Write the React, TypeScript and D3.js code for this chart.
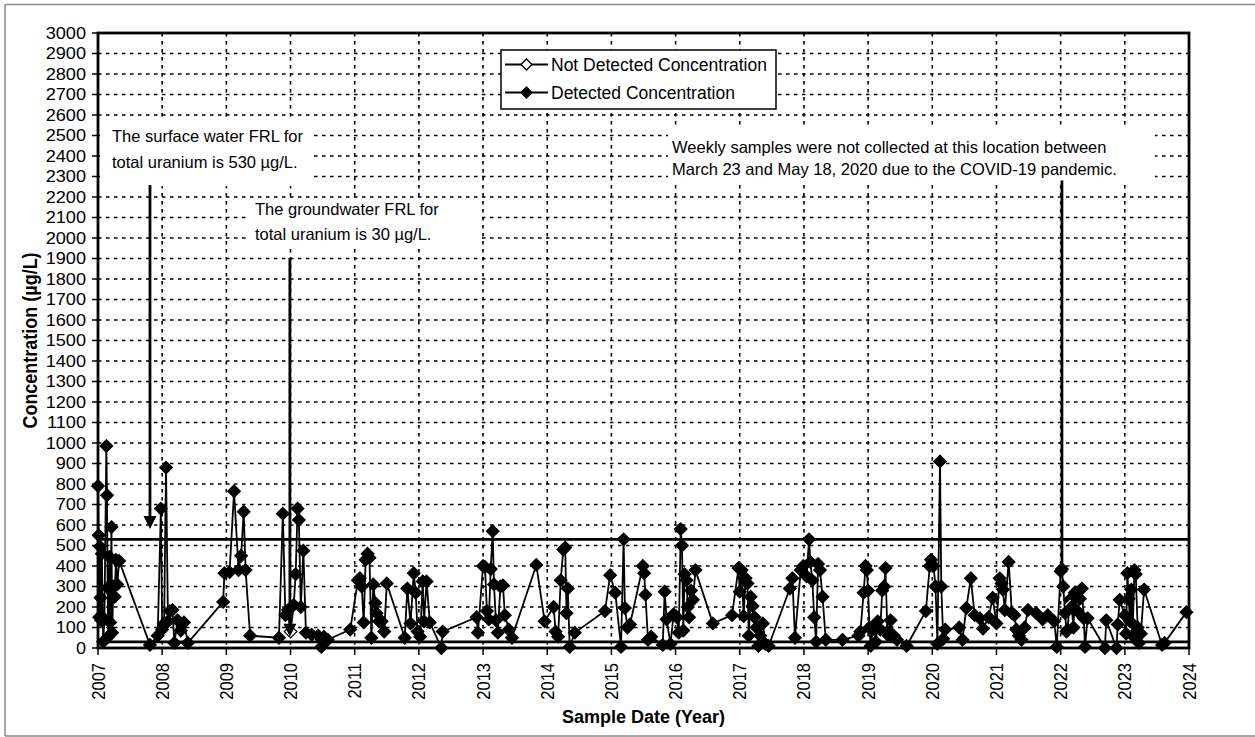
import React, { useEffect, useRef } from 'react';
import * as d3 from 'd3';

const WIDTH = 1255;
const HEIGHT = 737;
const FONT = '"Liberation Sans", Arial, sans-serif';

// [decimal year, concentration µg/L]
const detected2007 = [
  [2007.0, 790], [2007.01, 550], [2007.02, 150], [2007.03, 495], [2007.04, 245], [2007.05, 135],
  [2007.06, 460], [2007.08, 30], [2007.1, 140], [2007.13, 985], [2007.14, 745], [2007.15, 295],
  [2007.16, 55], [2007.18, 445], [2007.19, 125], [2007.21, 590], [2007.22, 75], [2007.24, 300],
  [2007.26, 250], [2007.28, 430], [2007.3, 310], [2007.33, 425], [2007.81, 15],
];
const detected2008 = [
  [2007.93, 60], [2007.98, 680], [2008.0, 90], [2008.03, 120], [2008.06, 880], [2008.09, 130],
  [2008.12, 180], [2008.16, 185], [2008.19, 25], [2008.24, 135], [2008.29, 85], [2008.34, 125],
  [2008.4, 25],
];
const detected2009 = [
  [2008.95, 225], [2008.97, 365], [2009.05, 370], [2009.12, 765], [2009.19, 380], [2009.23, 450],
  [2009.27, 665], [2009.3, 380], [2009.37, 60], [2009.82, 50],
];
const detected2010 = [
  [2009.88, 655], [2009.92, 160], [2009.96, 185], [2010.05, 210], [2010.08, 360], [2010.11, 680],
  [2010.13, 625], [2010.16, 200], [2010.2, 475], [2010.24, 75], [2010.33, 65], [2010.43, 60],
  [2010.48, 5], [2010.52, 55], [2010.58, 40], [2010.93, 90],
];
const detected2011 = [
  [2011.05, 330], [2011.08, 340], [2011.11, 300], [2011.14, 125], [2011.17, 430], [2011.2, 460],
  [2011.23, 440], [2011.26, 50], [2011.29, 310], [2011.32, 220], [2011.34, 170], [2011.38, 130],
  [2011.42, 130], [2011.46, 80], [2011.5, 315], [2011.78, 50], [2011.82, 290], [2011.87, 120],
  [2011.92, 365], [2011.95, 270], [2011.98, 80],
];
const detected2012 = [
  [2012.02, 55], [2012.06, 325], [2012.08, 130], [2012.12, 325], [2012.17, 125], [2012.35, 0],
  [2012.37, 80], [2012.9, 150], [2012.92, 75],
];
const detected2013 = [
  [2013.0, 400], [2013.03, 395], [2013.06, 180], [2013.09, 140], [2013.12, 385], [2013.15, 570],
  [2013.17, 310], [2013.2, 135], [2013.23, 75], [2013.27, 300], [2013.31, 305], [2013.34, 160],
  [2013.4, 90], [2013.45, 50], [2013.83, 405], [2013.96, 130],
];
const detected2014 = [
  [2014.1, 200], [2014.13, 80], [2014.17, 55], [2014.21, 330], [2014.25, 480], [2014.28, 490],
  [2014.3, 170], [2014.32, 290], [2014.35, 5], [2014.43, 75], [2014.9, 180], [2014.98, 355],
];
const detected2015 = [
  [2015.06, 270], [2015.15, 5], [2015.19, 530], [2015.21, 195], [2015.25, 100], [2015.29, 115],
  [2015.49, 400], [2015.51, 365], [2015.53, 260], [2015.57, 40], [2015.62, 55], [2015.8, 15],
  [2015.83, 275], [2015.86, 140], [2015.92, 20], [2015.97, 165],
];
const detected2016 = [
  [2016.02, 150], [2016.05, 75], [2016.08, 580], [2016.1, 500], [2016.12, 85], [2016.14, 360],
  [2016.17, 330], [2016.19, 200], [2016.21, 150], [2016.24, 280], [2016.27, 235], [2016.31, 380],
  [2016.58, 120], [2016.88, 160], [2016.98, 390],
];
const detected2017 = [
  [2017.0, 275], [2017.03, 380], [2017.06, 155], [2017.09, 340], [2017.12, 315], [2017.14, 60],
  [2017.17, 250], [2017.2, 205], [2017.23, 150], [2017.26, 100], [2017.29, 10], [2017.32, 60],
  [2017.36, 120], [2017.4, 20], [2017.45, 10], [2017.78, 290], [2017.82, 340], [2017.86, 50],
  [2017.95, 380], [2017.99, 400],
];
const detected2018 = [
  [2018.04, 350], [2018.08, 530], [2018.1, 420], [2018.13, 330], [2018.16, 150], [2018.19, 30],
  [2018.22, 410], [2018.25, 380], [2018.29, 250], [2018.34, 40], [2018.6, 40], [2018.85, 60],
  [2018.88, 80], [2018.93, 270], [2018.96, 400], [2018.98, 380],
];
const detected2019 = [
  [2019.0, 280], [2019.02, 100], [2019.04, 10], [2019.07, 90], [2019.1, 110], [2019.12, 30],
  [2019.15, 130], [2019.19, 90], [2019.22, 280], [2019.25, 300], [2019.27, 390], [2019.3, 80],
  [2019.32, 60], [2019.35, 135], [2019.4, 60], [2019.45, 40], [2019.6, 10], [2019.9, 180],
  [2019.96, 400], [2019.98, 430],
];
const detected2020 = [
  [2020.02, 400], [2020.05, 300], [2020.08, 20], [2020.12, 910], [2020.14, 300], [2020.17, 45],
  [2020.2, 90], [2020.42, 100], [2020.47, 40], [2020.53, 195], [2020.6, 340], [2020.66, 160],
  [2020.74, 145], [2020.79, 95], [2020.88, 150], [2020.94, 245],
];
const detected2021 = [
  [2021.0, 120], [2021.05, 340], [2021.08, 315], [2021.1, 285], [2021.13, 185], [2021.19, 420],
  [2021.24, 170], [2021.28, 160], [2021.31, 90], [2021.35, 60], [2021.39, 40], [2021.44, 100],
  [2021.49, 185], [2021.62, 170], [2021.72, 140], [2021.8, 160], [2021.9, 130], [2021.94, 5],
];
const detected2022 = [
  [2022.0, 375], [2022.02, 385], [2022.04, 300], [2022.07, 170], [2022.09, 80], [2022.11, 90],
  [2022.14, 235], [2022.17, 200], [2022.2, 100], [2022.22, 270], [2022.26, 180], [2022.3, 240],
  [2022.33, 290], [2022.36, 145], [2022.38, 5], [2022.42, 145], [2022.69, 0], [2022.71, 135],
  [2022.87, 0], [2022.89, 115], [2022.92, 235],
];
const detected2023 = [
  [2023.0, 160], [2023.02, 70], [2023.04, 365], [2023.06, 240], [2023.08, 130], [2023.1, 285],
  [2023.12, 60], [2023.15, 380], [2023.17, 360], [2023.2, 100], [2023.22, 25], [2023.25, 70],
  [2023.3, 285], [2023.58, 15], [2023.62, 25], [2023.96, 175],
];
const notDetected = [[2010.0, 80], [2022.15, 210]];

const yearTicks = [2007, 2008, 2009, 2010, 2011, 2012, 2013, 2014, 2015, 2016, 2017, 2018, 2019, 2020, 2021, 2022, 2023, 2024];
const concTicks = [0, 100, 200, 300, 400, 500, 600, 700, 800, 900, 1000, 1100, 1200, 1300, 1400, 1500,
  1600, 1700, 1800, 1900, 2000, 2100, 2200, 2300, 2400, 2500, 2600, 2700, 2800, 2900, 3000];

const surfaceFRL = 530;
const groundFRL = 30;

const diamond = (r) => `M0,${-r}L${r},0L0,${r}L${-r},0Z`;

const Chart = () => {
  const chartRef = useRef<SVGSVGElement>(null);

  useEffect(() => {
    const svg = d3.select(chartRef.current);
    svg.selectAll('*').remove();

    const x = d3.scaleLinear().domain([2007, 2024]).range([98, 1189]);
    const y = d3.scaleLinear().domain([0, 3000]).range([648, 33]);
    const [x0, x1] = x.range();
    const [yb, yt] = y.range();

    // outer border of the figure
    const border = svg.append('g').attr('stroke', '#8a8a8a').attr('stroke-width', 1.5);
    border.append('line').attr('x1', 5).attr('x2', WIDTH).attr('y1', 4.5).attr('y2', 4.5);
    border.append('line').attr('x1', 5).attr('x2', 5).attr('y1', 4.5).attr('y2', 736);
    border.append('line').attr('x1', 5).attr('x2', WIDTH).attr('y1', 736).attr('y2', 736);

    // dotted gridlines
    const grid = svg.append('g').attr('stroke', '#000').attr('stroke-width', 1.6)
      .attr('stroke-dasharray', '3.5,4.5');
    grid.selectAll('.h').data(concTicks.slice(1, -1)).join('line')
      .attr('x1', x0).attr('x2', x1).attr('y1', d => y(d)).attr('y2', d => y(d));
    grid.selectAll('.v').data(yearTicks.slice(1, -1)).join('line')
      .attr('y1', yt).attr('y2', yb).attr('x1', d => x(d)).attr('x2', d => x(d));

    // white boxes behind annotations
    const boxes = [[100, 120, 214, 66], [248, 198, 230, 50], [668, 128, 487, 56]];
    svg.append('g').selectAll('rect').data(boxes).join('rect')
      .attr('x', d => d[0]).attr('y', d => d[1]).attr('width', d => d[2]).attr('height', d => d[3])
      .attr('fill', '#fff');

    // FRL lines
    svg.append('g').attr('stroke', '#000').attr('stroke-width', 2.6)
      .selectAll('line').data([surfaceFRL, groundFRL]).join('line')
      .attr('x1', x0).attr('x2', x1).attr('y1', d => y(d)).attr('y2', d => y(d));

    // data series
    const detected = [
      ...detected2007, ...detected2008, ...detected2009, ...detected2010, ...detected2011,
      ...detected2012, ...detected2013, ...detected2014, ...detected2015, ...detected2016,
      ...detected2017, ...detected2018, ...detected2019, ...detected2020, ...detected2021,
      ...detected2022, ...detected2023,
    ].map(d => ({ t: d[0], v: d[1], nd: false }));
    const nd = notDetected.map(d => ({ t: d[0], v: d[1], nd: true }));
    const all = [...detected, ...nd].sort((a, b) => a.t - b.t);

    const line = d3.line<any>().x(d => x(d.t)).y(d => y(d.v));
    svg.append('path').datum(all).attr('d', line)
      .attr('fill', 'none').attr('stroke', '#000').attr('stroke-width', 1.8)
      .attr('stroke-linejoin', 'round');

    svg.append('g').selectAll('path').data(all).join('path')
      .attr('d', diamond(6.3))
      .attr('transform', d => `translate(${x(d.t)},${y(d.v)})`)
      .attr('fill', d => (d.nd ? '#fff' : '#000'))
      .attr('stroke', '#000').attr('stroke-width', 1.2);

    // annotations with arrows
    const arrows = [
      { t: 2007.81, from: 2258, to: 580, head: true },
      { t: 2009.99, from: 1902, to: 55, head: true },
      { t: 2022.02, from: 2280, to: 380, head: false },
    ];
    const ag = svg.append('g');
    arrows.forEach(a => {
      const ax = x(a.t);
      const tip = y(a.to);
      ag.append('line').attr('x1', ax).attr('x2', ax).attr('y1', y(a.from))
        .attr('y2', a.head ? tip - 10 : tip)
        .attr('stroke', '#000').attr('stroke-width', 2.8);
      if (a.head) {
        ag.append('path').attr('d', `M${ax - 6.5},${tip - 13}L${ax + 6.5},${tip - 13}L${ax},${tip}Z`)
          .attr('fill', '#000');
      }
    });

    const notes = [
      { x: 112, y: 142, lines: ['The surface water FRL for', 'total uranium is 530 µg/L.'], gap: 26 },
      { x: 255, y: 215, lines: ['The groundwater FRL for', 'total uranium is 30 µg/L.'], gap: 25 },
      {
        x: 672, y: 153,
        lines: ['Weekly samples were not collected at this location between',
          'March 23 and May 18, 2020 due to the COVID-19 pandemic.'],
        gap: 22,
      },
    ];
    notes.forEach(n => {
      n.lines.forEach((l, i) => {
        svg.append('text').attr('x', n.x).attr('y', n.y + i * n.gap)
          .attr('font-family', FONT).attr('font-size', 16.5).attr('fill', '#000').text(l);
      });
    });

    // legend
    const lg = svg.append('g');
    lg.append('rect').attr('x', 501).attr('y', 50).attr('width', 275).attr('height', 59)
      .attr('fill', '#fff').attr('stroke', '#000').attr('stroke-width', 1.5);
    const items = [
      { label: 'Not Detected Concentration', fill: '#fff', cy: 64.5 },
      { label: 'Detected Concentration', fill: '#000', cy: 92.5 },
    ];
    items.forEach(it => {
      lg.append('line').attr('x1', 505).attr('x2', 548).attr('y1', it.cy).attr('y2', it.cy)
        .attr('stroke', '#000').attr('stroke-width', 1.8);
      lg.append('path').attr('d', diamond(5.5)).attr('transform', `translate(526.5,${it.cy})`)
        .attr('fill', it.fill).attr('stroke', '#000').attr('stroke-width', 1.3);
      lg.append('text').attr('x', 551).attr('y', it.cy + 6.2).attr('font-family', FONT)
        .attr('font-size', 17.5).attr('fill', '#000').text(it.label);
    });

    // plot frame
    svg.append('rect').attr('x', x0).attr('y', yt).attr('width', x1 - x0).attr('height', yb - yt)
      .attr('fill', 'none').attr('stroke', '#000').attr('stroke-width', 2.8);

    // y axis ticks and labels
    const yAxis = svg.append('g');
    yAxis.selectAll('line').data(concTicks).join('line')
      .attr('x1', x0 - 6).attr('x2', x0).attr('y1', d => y(d)).attr('y2', d => y(d))
      .attr('stroke', '#000').attr('stroke-width', 1.5);
    yAxis.selectAll('text').data(concTicks).join('text')
      .attr('transform', d => `translate(86,${y(d)}) scale(1.1,1)`).attr('dy', '0.36em')
      .attr('text-anchor', 'end').attr('font-family', FONT).attr('font-size', 16.5)
      .text(d => d);

    // x axis ticks and labels
    const xAxis = svg.append('g');
    xAxis.selectAll('line').data(yearTicks).join('line')
      .attr('x1', d => x(d)).attr('x2', d => x(d)).attr('y1', yb).attr('y2', yb + 7)
      .attr('stroke', '#000').attr('stroke-width', 1.5);
    xAxis.selectAll('text').data(yearTicks).join('text')
      .attr('transform', d => `translate(${x(d)},663) rotate(-90) scale(1,1.1)`)
      .attr('dy', '0.36em').attr('text-anchor', 'end')
      .attr('font-family', FONT).attr('font-size', 16.5).text(d => d);

    // axis titles
    svg.append('text').attr('x', (x0 + x1) / 2).attr('y', 723).attr('text-anchor', 'middle')
      .attr('font-family', FONT).attr('font-size', 18).attr('font-weight', 'bold')
      .text('Sample Date (Year)');
    svg.append('text').attr('transform', `translate(37,${(yt + yb) / 2}) rotate(-90) scale(1,1.1)`)
      .attr('text-anchor', 'middle').attr('font-family', FONT).attr('font-size', 18)
      .attr('font-weight', 'bold').text('Concentration (µg/L)');
  }, []);

  return (
    <svg ref={chartRef} width={WIDTH} height={HEIGHT}
      style={{ position: 'absolute', left: 0, top: 0, background: '#fff' }}></svg>
  );
};

export default function App() {
  return <Chart />;
}
